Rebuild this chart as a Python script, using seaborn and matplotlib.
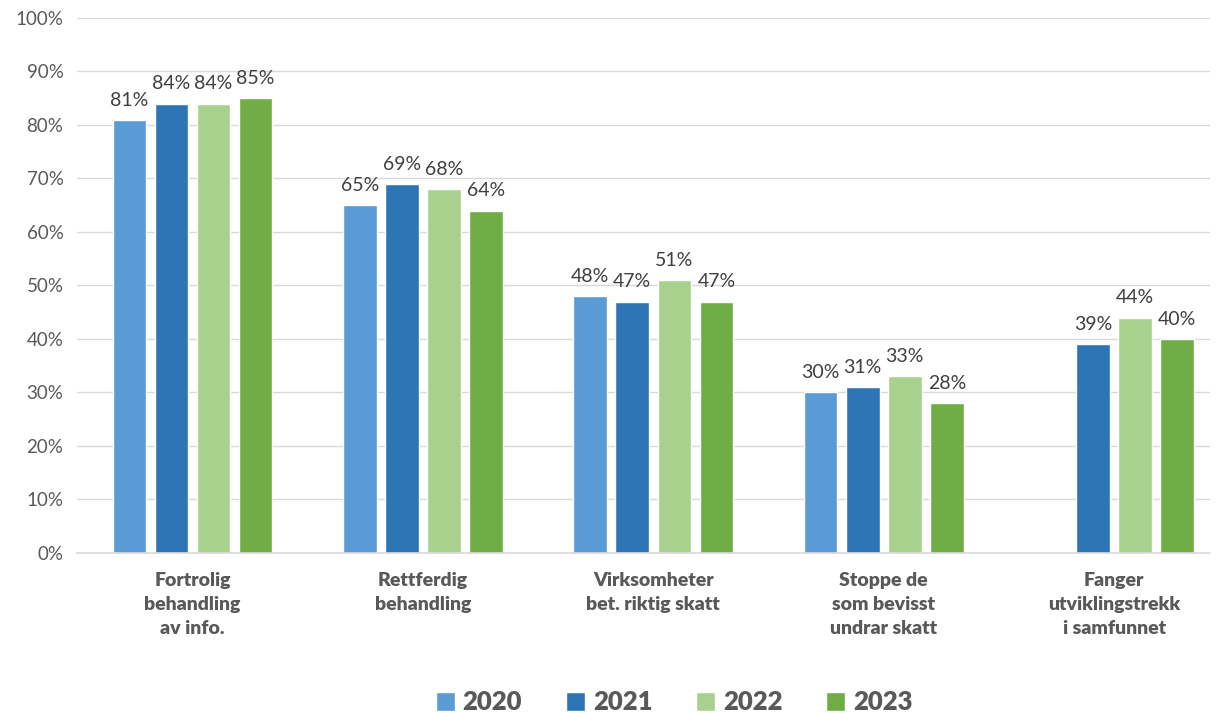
import pandas as pd
import numpy as np
import matplotlib.pyplot as plt
import seaborn as sns
from matplotlib.ticker import FuncFormatter

categories = ["Fortrolig\nbehandling\nav info.",
              "Rettferdig\nbehandling",
              "Virksomheter\nbet. riktig skatt",
              "Stoppe de\nsom bevisst\nundrar skatt",
              "Fanger\nutviklingstrekk\ni samfunnet"]
years = ["2020", "2021", "2022", "2023"]
v2020 = [81, 65, 48, 30, np.nan]
v2021 = [84, 69, 47, 31, 39]
v2022 = [84, 68, 51, 33, 44]
v2023 = [85, 64, 47, 28, 40]
colors = ["#5B9BD5", "#2E75B6", "#A9D18E", "#70AD47"]

rows = []
for year, vals in zip(years, [v2020, v2021, v2022, v2023]):
    for cat, v in zip(categories, vals):
        rows.append({"Kategori": cat, "År": year, "Andel": v})
df = pd.DataFrame(rows)

sns.set_style("white")
plt.rcParams['font.family'] = ['Lato', 'DejaVu Sans']

fig = plt.figure(figsize=(12.19, 7.13), dpi=100)
ax = fig.add_axes([0.0634, 0.2244, 0.9292, 0.7504])

sns.barplot(data=df, x="Kategori", y="Andel", hue="År", order=categories,
            hue_order=years, palette=colors, width=0.73, gap=0.2,
            saturation=1, ax=ax, legend=True)

for c in ax.containers:
    labels = [f"{b.get_height():.0f}%" if not np.isnan(b.get_height()) and b.get_height() > 0 else ""
              for b in c]
    ax.bar_label(c, labels=labels, padding=8, fontsize=14, color="#404040")

ax.set_xlim(-0.5, 4.416)
ax.set_ylim(0, 100)
ax.set_yticks(range(0, 101, 10))
ax.yaxis.set_major_formatter(FuncFormatter(lambda v, p: f"{v:.0f}%"))
ax.grid(axis="y", color="#D9D9D9", linewidth=1)
ax.set_axisbelow(True)
for s in ["top", "right", "left"]:
    ax.spines[s].set_visible(False)
ax.spines["bottom"].set_color("#D9D9D9")
ax.spines["bottom"].set_linewidth(1.2)
ax.set_xlabel("")
ax.set_ylabel("")
ax.tick_params(axis="y", labelsize=13.5, labelcolor="#595959", length=0, pad=10)
ax.tick_params(axis="x", labelsize=14, labelcolor="#595959", length=0, pad=14)
for t in ax.get_xticklabels():
    t.set_fontweight("heavy")
    t.set_linespacing(1.5)

handles, labels = ax.get_legend_handles_labels()
ax.legend(handles, labels, loc="lower center", bbox_to_anchor=(0.527, -0.345),
          ncol=4, frameon=False, handlelength=0.75, handleheight=0.75,
          handletextpad=0.3, columnspacing=1.7,
          prop={"size": 18.5, "weight": "heavy"}, labelcolor="#595959")

fig.savefig("out.png", dpi=100)
